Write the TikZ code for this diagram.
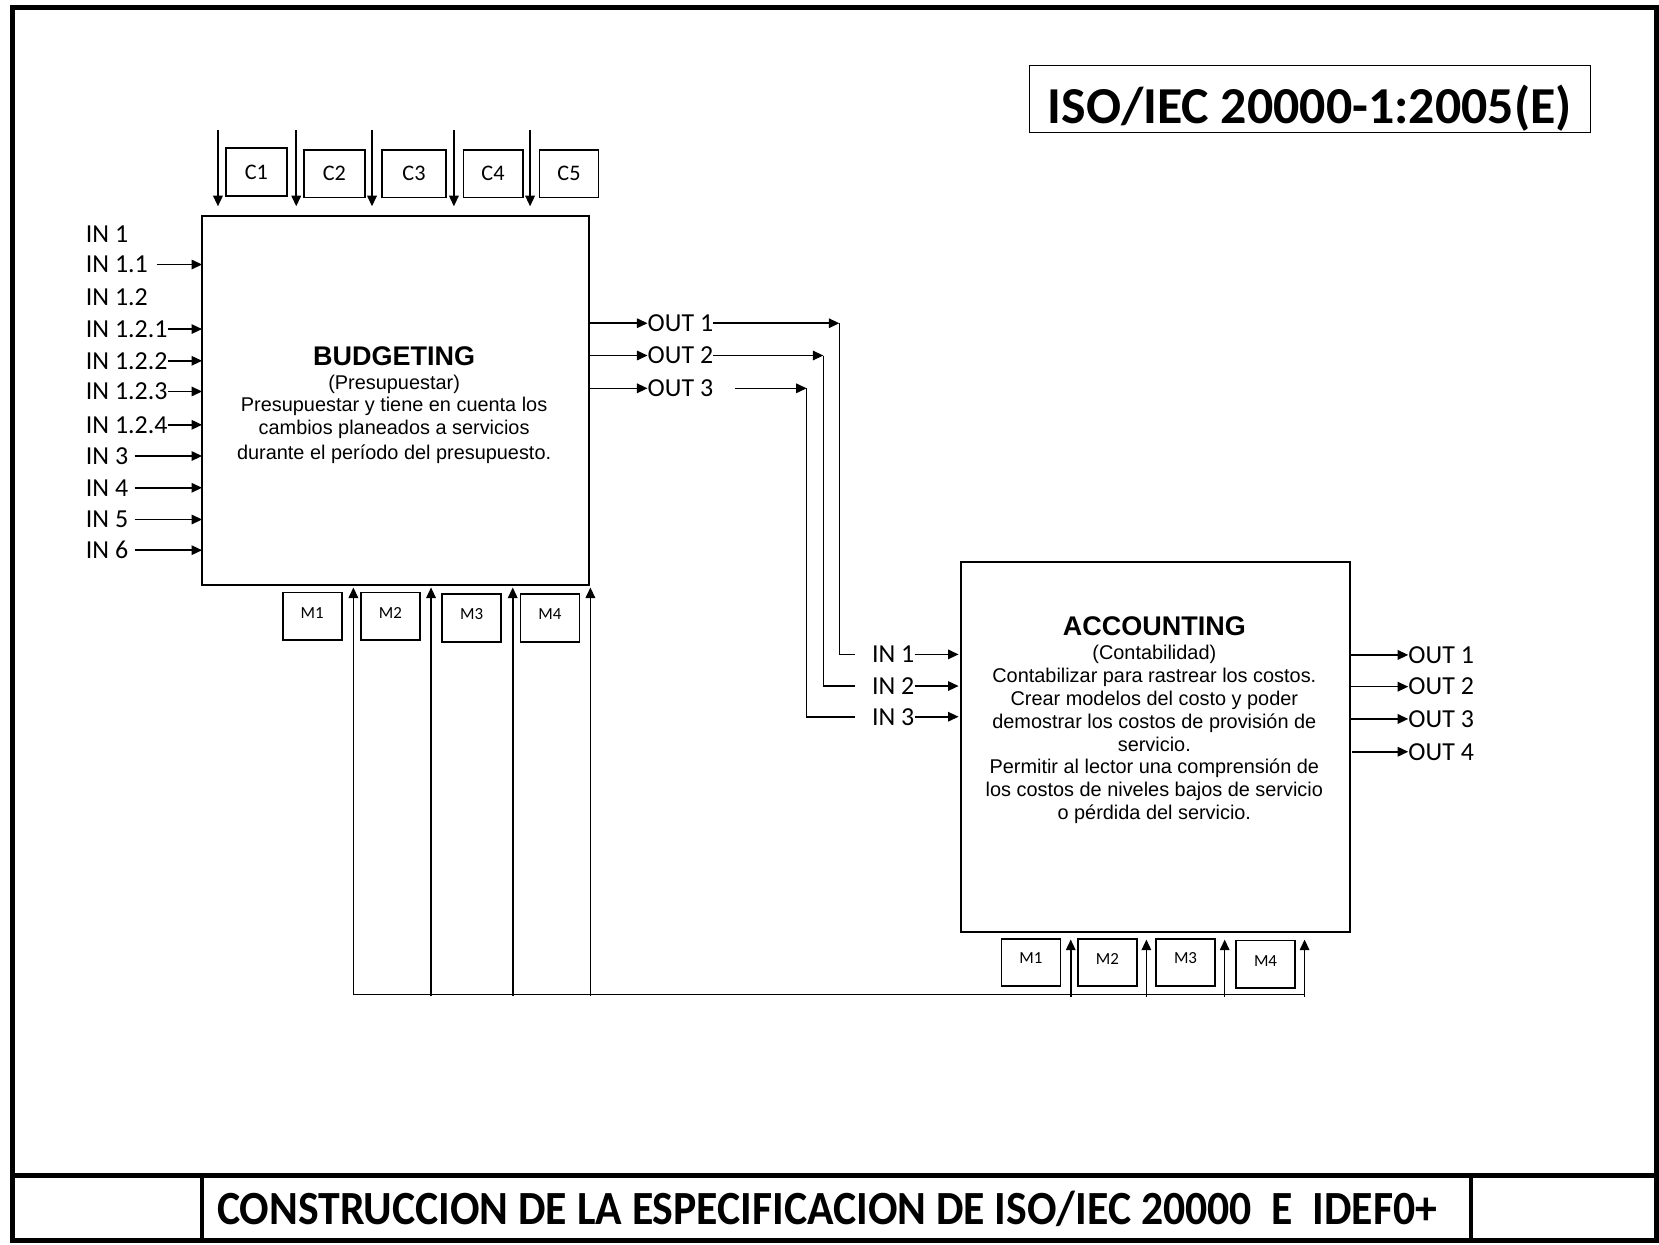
\documentclass[tikz,border=0pt]{standalone}
\usepackage{fontspec}
\usepackage{graphicx}
\setmainfont{Liberation Sans}
\newfontfamily\calibri{Carlito}
\usetikzlibrary{arrows.meta}
\begin{document}
\begin{tikzpicture}[x=1pt,y=-1pt,
  arr/.style={-{Triangle[length=10pt,width=9pt]}, line width=1.5pt},
  ln/.style={line width=1.5pt},
  boxs/.style={draw, line width=1.6pt, inner sep=0pt, outer sep=0pt},
  lbl/.style={font=\calibri\fontsize{24.5}{26}\selectfont, inner sep=0pt, anchor=west},
  clbl/.style={boxs, font=\calibri\fontsize{21}{22}\selectfont},
  mbox/.style={boxs},
  mlbl/.style={font=\calibri\fontsize{16}{17}\selectfont, inner sep=0pt},
  btxt/.style={font=\fontsize{18.8}{22}\selectfont, inner sep=0pt, anchor=base},
  bttl/.style={font=\bfseries\fontsize{25.5}{28}\selectfont, inner sep=0pt, anchor=base}
]
\useasboundingbox (0,0) rectangle (1568,1176);
\fill[white] (0,0) rectangle (1568,1176);

% frame
\draw[line width=4.7pt] (11.8,7) rectangle (1565.7,1172);
\draw[line width=4.5pt] (11.8,1111) -- (1565.7,1111);
\draw[line width=3.8pt] (191,1111) -- (191,1172);
\draw[line width=3.8pt] (1390,1111) -- (1390,1172);
\node[anchor=base west, inner sep=0pt] (foot) at (205,1157)
  {\resizebox{1153pt}{\height}{\calibri\bfseries\fontsize{45}{45}\selectfont CONSTRUCCION DE LA ESPECIFICACION DE ISO/IEC 20000\ \ E\ \ IDEF0+}};

% ISO title
\node[draw, line width=1.2pt, minimum width=530pt, minimum height=63pt, inner sep=0pt] (isobox) at (1238,93.5) {};
\node[anchor=base west, inner sep=0pt] (iso) at (990,117)
  {\resizebox{495pt}{!}{\calibri\bfseries ISO/IEC 20000-1:2005(E)}};

% main boxes
\node[boxs, minimum width=366pt, minimum height=349pt] (bud) at (374,378.5) {};
\node[boxs, minimum width=368pt, minimum height=350pt] (acc) at (1092,706) {};

% budgeting text
\node[bttl] (budt) at (372.5,345) {BUDGETING};
\node[btxt] (budl1) at (372.5,368) {(Presupuestar)};
\node[btxt] (budl2) at (372.5,389) {Presupuestar y tiene en cuenta los};
\node[btxt] (budl3) at (372.5,411) {cambios planeados a servicios};
\node[btxt] (budl4) at (372.5,434) {durante el período del presupuesto.};

% accounting text
\node[bttl] (acct) at (1091,601) {ACCOUNTING};
\node[btxt] (accl1) at (1091,623.5) {(Contabilidad)};
\node[btxt] (accl2) at (1091,645.1) {Contabilizar para rastrear los costos.};
\node[btxt] (accl3) at (1091,666.7) {Crear modelos del costo y poder};
\node[btxt] (accl4) at (1091,688.3) {demostrar los costos de provisión de};
\node[btxt] (accl5) at (1091,709.9) {servicio.};
\node[btxt] (accl6) at (1091,731.5) {Permitir al lector una comprensión de};
\node[btxt] (accl7) at (1091,753.1) {los costos de niveles bajos de servicio};
\node[btxt] (accl8) at (1091,774.7) {o pérdida del servicio.};

% control boxes
\node[clbl, minimum width=57.4pt, minimum height=45pt] (c1) at (242.3,162.7) {C1};
\node[clbl, minimum width=57.4pt, minimum height=44.7pt] (c2) at (316,164.2) {C2};
\node[clbl, minimum width=60.6pt, minimum height=44.7pt] (c3) at (391.3,164.2) {C3};
\node[clbl, minimum width=56.1pt, minimum height=44.7pt] (c4) at (466,164.2) {C4};
\node[clbl, minimum width=56pt, minimum height=44.7pt] (c5) at (537.8,164.2) {C5};
\coordinate (ct1) at (206,123);
\coordinate (ct2) at (280,123);
\coordinate (ct3) at (351.6,123);
\coordinate (ct4) at (429,123);
\coordinate (ct5) at (501,123);
\foreach \c in {ct1,ct2,ct3,ct4,ct5}
  \draw[arr, shorten >=9pt] (\c) -- (\c |- bud.north);

% inputs of budgeting
\node[lbl] (bi1) at (81,221) {IN 1};
\node[lbl] (bi11) at (81,250) {IN 1.1};
\node[lbl] (bi12) at (81,281) {IN 1.2};
\node[lbl] (bi121) at (81,311) {IN 1.2.1};
\node[lbl] (bi122) at (81,341) {IN 1.2.2};
\node[lbl] (bi123) at (81,370) {IN 1.2.3};
\node[lbl] (bi124) at (81,401.5) {IN 1.2.4};
\node[lbl] (bi3) at (81,431) {IN 3};
\node[lbl] (bi4) at (81,461) {IN 4};
\node[lbl] (bi5) at (81,491) {IN 5};
\node[lbl] (bi6) at (81,520) {IN 6};
\draw[arr] ([xshift=8pt]bi11.east) -- (bi11.east -| bud.west);
\foreach \n in {bi121,bi122,bi123,bi124}
  \draw[arr] (\n.east) -- (\n.east -| bud.west);
\foreach \n in {bi3,bi4,bi5,bi6}
  \draw[arr] ([xshift=6pt]\n.east) -- (\n.east -| bud.west);

% mechanism boxes budgeting
\node[mbox, minimum width=55.8pt, minimum height=45.1pt] (bm1) at (295.1,582.5) {};
\node[mbox, minimum width=55.8pt, minimum height=45.1pt] (bm2) at (369.1,582.5) {};
\node[mbox, minimum width=55.5pt, minimum height=45pt] (bm3) at (445.8,584) {};
\node[mbox, minimum width=55.8pt, minimum height=45pt] (bm4) at (519.7,584) {};
\node[mlbl] at ([yshift=3.5pt]bm1.center) {M1};
\node[mlbl] at ([yshift=3.5pt]bm2.center) {M2};
\node[mlbl] at ([yshift=3.5pt]bm3.center) {M3};
\node[mlbl] at ([yshift=3.5pt]bm4.center) {M4};

% mechanism boxes accounting
\node[mbox, minimum width=55.8pt, minimum height=44.5pt] (am1) at (974.4,909.75) {};
\node[mbox, minimum width=55.5pt, minimum height=44.5pt] (am2) at (1046.75,909.75) {};
\node[mbox, minimum width=55.8pt, minimum height=44.5pt] (am3) at (1120.5,909.75) {};
\node[mbox, minimum width=55.8pt, minimum height=44.5pt] (am4) at (1196.1,911.25) {};
\node[mlbl] at ([yshift=3.8pt]am1.center) {M1};
\node[mlbl] at ([yshift=3.8pt]am2.center) {M2};
\node[mlbl] at ([yshift=3.8pt]am3.center) {M3};
\node[mlbl] at ([yshift=3.2pt]am4.center) {M4};

% mechanism bus
\coordinate (busL) at (334,939.8);
\coordinate (busR) at (1233,939.8);
\coordinate (mb2) at (407.4,941.5);
\coordinate (mb3) at (484.6,941.5);
\coordinate (mb4) at (558,941.5);
\coordinate (ma1) at (1012,942);
\coordinate (ma2) at (1083.5,942);
\coordinate (ma3) at (1157.5,942);
\coordinate (ma4) at (1233,942);
\draw[arr, shorten >=2.2pt] (busR) -- (busL) -- (busL |- bud.south);
\foreach \c in {mb2,mb3,mb4}
  \draw[arr, shorten >=2.2pt] (\c) -- (\c |- bud.south);
\foreach \c in {ma1,ma2,ma3,ma4}
  \draw[arr, shorten >=7pt] (\c) -- (\c |- acc.south);

% outputs of budgeting
\node[lbl] (bo1) at (612,305.5) {OUT 1};
\node[lbl] (bo2) at (612,336) {OUT 2};
\node[lbl] (bo3) at (612,367) {OUT 3};
\foreach \n in {bo1,bo2,bo3}
  \draw[arr] (\n.west -| bud.east) -- (\n.west);

% inputs of accounting
\node[lbl] (ai1) at (824,618.5) {IN 1};
\node[lbl] (ai2) at (824,648.4) {IN 2};
\node[lbl] (ai3) at (824,677.4) {IN 3};
\foreach \n in {ai1,ai2,ai3}
  \draw[arr, shorten >=2pt] (\n.east) -- (\n.east -| acc.west);

% links
\coordinate (k1) at (793.3,305.5);
\coordinate (k2) at (778.2,336);
\coordinate (k3) at (762.4,367);
\coordinate (s1) at (808,618.5);
\coordinate (s2) at (808,648.4);
\coordinate (s3) at (808,677.4);
\draw[arr] (bo1.east) -- (k1);
\draw[ln] (k1) -- (k1 |- s1) -- (s1);
\draw[arr] (bo2.east) -- (k2);
\draw[ln] (k2) -- (k2 |- s2) -- (s2);
\draw[arr] ([xshift=20pt]bo3.east) -- (k3);
\draw[ln] (k3) -- (k3 |- s3) -- (s3);

% outputs of accounting
\node[lbl] (ao1) at (1331,619) {OUT 1};
\node[lbl] (ao2) at (1331,649) {OUT 2};
\node[lbl] (ao3) at (1331,679.5) {OUT 3};
\node[lbl] (ao4) at (1331,710.5) {OUT 4};
\foreach \n in {ao1,ao2,ao3}
  \draw[arr] (\n.west -| acc.east) -- (\n.west);
\draw[arr, shorten <=2pt] (ao4.west -| acc.east) -- (ao4.west);
\end{tikzpicture}
\end{document}
